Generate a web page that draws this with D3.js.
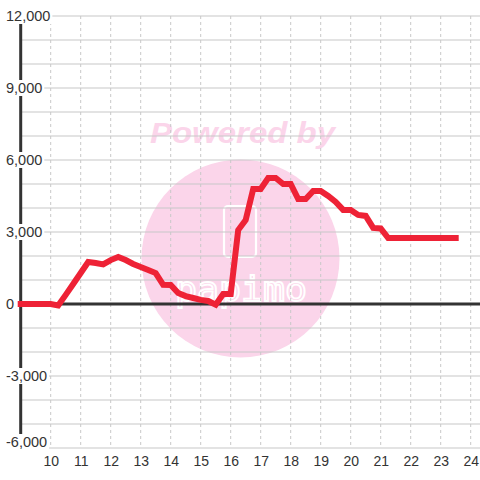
<!DOCTYPE html>
<html><head><meta charset="utf-8">
<script src="https://cdn.jsdelivr.net/npm/d3@7"></script>
<style>html,body{margin:0;padding:0;background:#fff}svg{display:block}</style>
</head><body>
<svg id="c" width="480" height="480"></svg>
<script>
const hours = [9,9.25,9.5,9.75,10,10.25,10.5,10.75,11,11.25,11.5,11.75,12,12.25,12.5,12.75,13,13.25,13.5,13.75,14,14.25,14.5,14.75,15,15.25,15.5,15.75,16,16.25,16.5,16.75,17,17.25,17.5,17.75,18,18.25,18.5,18.75,19,19.25,19.5,19.75,20,20.25,20.5,20.75,21,21.25,21.5,21.75,22,22.25,22.5,22.75,23,23.25,23.5];
const values = [0,0,0,0,0,-60,380,830,1290,1750,1710,1650,1830,1960,1830,1670,1540,1420,1290,800,790,460,330,250,170,125,-30,420,420,3080,3500,4790,4790,5250,5250,5000,5000,4375,4375,4710,4710,4500,4250,3920,3920,3710,3670,3170,3150,2750,2750,2750,2750,2750,2750,2750,2750,2750,2750];
const xTicks = [10,11,12,13,14,15,16,17,18,19,20,21,22,23,24];
const yTicks = [-6000,-3000,0,3000,6000,9000,12000];
const yGrid = [-6000,-5000,-4000,-3000,-2000,-1000,0,1000,2000,3000,4000,5000,6000,7000,8000,9000,10000,11000,12000];
const xGrid = [9,10,11,12,13,14,15,16,17,18,19,20,21,22,23,24];

const svg = d3.select('#c');
const x = d3.scaleLinear().domain([9, 24.31]).range([20.7, 480]);
const y = d3.scaleLinear().domain([-6000, 12000]).range([448, 16]);
const fmt = v => d3.format(',')(v).replace('\u2212', '-');

// watermark
const wm = svg.append('g');
wm.append('circle').attr('cx', 240.5).attr('cy', 258.5).attr('r', 99).attr('fill', '#fbd5ea');
wm.append('text').attr('x', 150).attr('y', 143).attr('textLength', 185).attr('lengthAdjust','spacingAndGlyphs')
  .attr('font-family', 'Liberation Sans, Arial, sans-serif').attr('font-size', 29)
  .attr('font-weight', 'bold').attr('font-style', 'italic').attr('fill', '#fbd5ea').text('Powered by');
wm.append('rect').attr('x', 224).attr('y', 206).attr('width', 32).attr('height', 51).attr('rx', 4)
  .attr('fill', 'none').attr('stroke', '#fff').attr('stroke-width', 2.2);
wm.append('text').attr('x', 175).attr('y', 301).attr('textLength', 132).attr('lengthAdjust','spacingAndGlyphs')
  .attr('font-family', 'DejaVu Sans Mono, monospace').attr('font-size', 34)
  .attr('fill', 'none').attr('stroke', '#fff').attr('stroke-width', 1.8).text('papimo');

// grid
svg.append('g').selectAll('line').data(yGrid).join('line')
  .attr('x1', x(9)).attr('x2', 480).attr('y1', d => y(d)).attr('y2', d => y(d))
  .attr('stroke', '#c8c8c8').attr('stroke-width', 1.2);
svg.append('g').selectAll('line').data(xGrid).join('line')
  .attr('x1', d => x(d)).attr('x2', d => x(d)).attr('y1', y(12000)).attr('y2', y(-6000))
  .attr('stroke', '#c8c8c8').attr('stroke-width', 1).attr('stroke-dasharray', '3,3');

// zero line & y axis line
svg.append('line').attr('x1', x(9)).attr('x2', 480).attr('y1', y(0)).attr('y2', y(0))
  .attr('stroke', '#333').attr('stroke-width', 3);
svg.append('line').attr('x1', x(9)).attr('x2', x(9)).attr('y1', y(12000)).attr('y2', y(-6000))
  .attr('stroke', '#333').attr('stroke-width', 3);

// data line
const line = d3.line().x((d, i) => x(hours[i])).y(d => y(d));
svg.append('path').datum(values).attr('d', line).attr('fill', 'none')
  .attr('stroke', '#ee2236').attr('stroke-width', 6).attr('stroke-linecap', 'square').attr('stroke-linejoin', 'miter');

// y labels
const yl = svg.append('g').attr('font-family', 'Liberation Sans, Arial, sans-serif').attr('font-size', 14.5);
yTicks.forEach(v => {
  const cy = v === -6000 ? y(v) - 6 : y(v);
  const t = yl.append('text').attr('x', 6).attr('y', cy).attr('dy', '0.35em').attr('fill', '#333')
    .text(fmt(v));
  const w = t.node().getComputedTextLength();
  yl.insert('rect', () => t.node()).attr('x', 4).attr('y', cy - 8).attr('width', w + 4).attr('height', 16).attr('fill', '#fff');
});

// x axis labels
const xa = svg.append('g').attr('transform', 'translate(0,448)')
  .call(d3.axisBottom(x).tickValues(xTicks).tickSize(0).tickPadding(8).tickFormat(d3.format('d')));
xa.select('.domain').remove();
xa.selectAll('text').attr('font-family', 'Liberation Sans, Arial, sans-serif').attr('font-size', 14).attr('fill', '#333');
</script>
</body></html>
